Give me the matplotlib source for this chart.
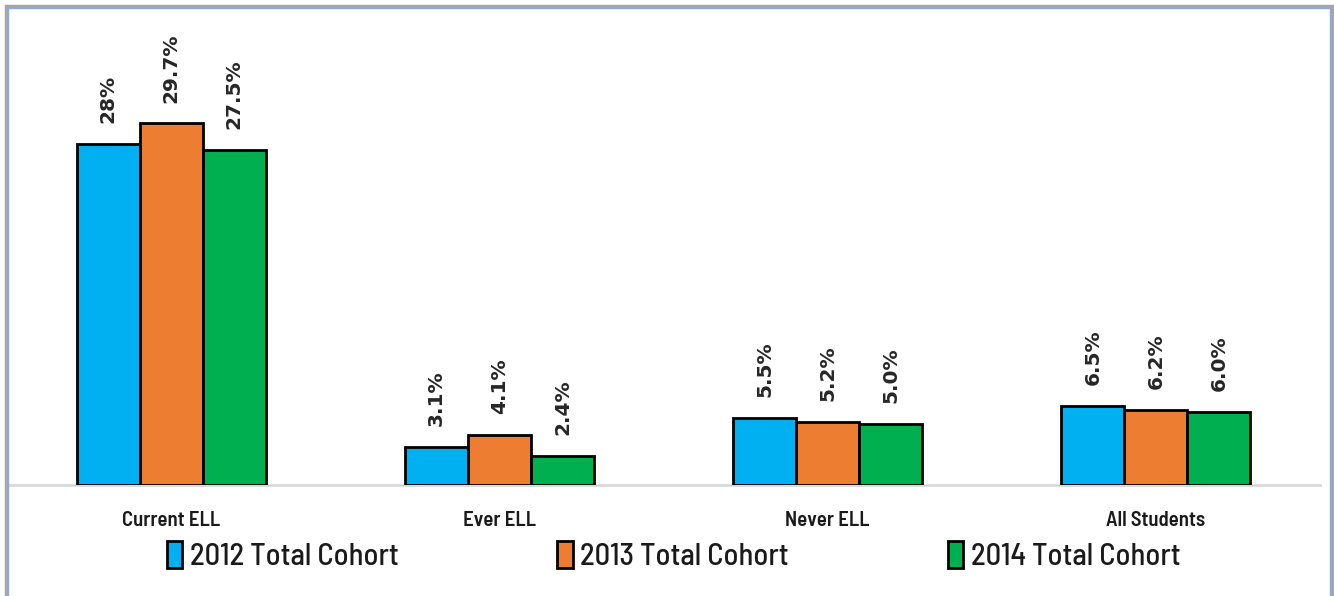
import numpy as np
from matplotlib import pyplot as plt
from matplotlib.patches import Rectangle

categories = ['Current ELL', 'Ever ELL', 'Never ELL', 'All Students']
series_names = ['2012 Total Cohort', '2013 Total Cohort', '2014 Total Cohort']
values_2012 = [28.0, 3.1, 5.5, 6.5]
values_2013 = [29.7, 4.1, 5.2, 6.2]
values_2014 = [27.5, 2.4, 5.0, 6.0]
value_labels = [['28%', '3.1%', '5.5%', '6.5%'],
                ['29.7%', '4.1%', '5.2%', '6.2%'],
                ['27.5%', '2.4%', '5.0%', '6.0%']]
colors = ['#00B0F0', '#ED7D31', '#00B050']

narrow = ['Barlow Semi Condensed', 'Lato', 'DejaVu Sans']
plt.rcParams['font.family'] = narrow

fig = plt.figure(figsize=(13.34, 5.96), dpi=100)
ax = fig.add_axes([7 / 1334, 1 - 485 / 596, 1313 / 1334, 465 / 596])

# frame around the whole chart
fig.patches.append(Rectangle((5.5 / 1334, -0.01), 1326 / 1334, 1 - 5.5 / 596 + 0.01,
                             transform=fig.transFigure, fill=False,
                             edgecolor='#A6A6A6', linewidth=2.5, zorder=0))
fig.patches.append(Rectangle((7.5 / 1334, -0.01), 1322.5 / 1334, 1 - 8 / 596 + 0.01,
                             transform=fig.transFigure, fill=False,
                             edgecolor='#8EA9DB', linewidth=1.0, zorder=0))

x = np.arange(len(categories))
width = 0.192
all_values = [values_2012, values_2013, values_2014]
for i, vals in enumerate(all_values):
    pos = x + (i - 1) * width
    bars = ax.bar(pos, vals, width, color=colors[i], edgecolor='black',
                  linewidth=2, label=series_names[i], zorder=3)
    for b, lab in zip(bars, value_labels[i]):
        ax.annotate(lab, (b.get_x() + b.get_width() / 2, b.get_height()),
                    xytext=(0, 15), textcoords='offset points',
                    rotation=90, ha='center', va='bottom',
                    fontsize=14.5, fontweight='bold', color='#262626',
                    family='DejaVu Sans')

ax.set_xlim(-0.5, 3.5)
ax.set_ylim(0, 38.2)
ax.set_yticks([])
ax.set_xticks(x)
ax.set_xticklabels(categories, fontsize=15, fontweight='semibold', color='#1a1a1a')
ax.tick_params(axis='x', length=0, pad=19)
for s in ['top', 'right', 'left']:
    ax.spines[s].set_visible(False)
ax.spines['bottom'].set_color('#D9D9D9')
ax.spines['bottom'].set_linewidth(2)
ax.patch.set_alpha(0)

leg = fig.legend(loc='center', bbox_to_anchor=(0.505, 1 - 556 / 596), ncol=3,
                 frameon=False, fontsize=22, handlelength=0.5, handleheight=1.0,
                 handletextpad=0.25, columnspacing=5.2)
for t in leg.get_texts():
    t.set_color('#1a1a1a')
    t.set_fontweight('medium')

fig.savefig('out.png', dpi=100)
